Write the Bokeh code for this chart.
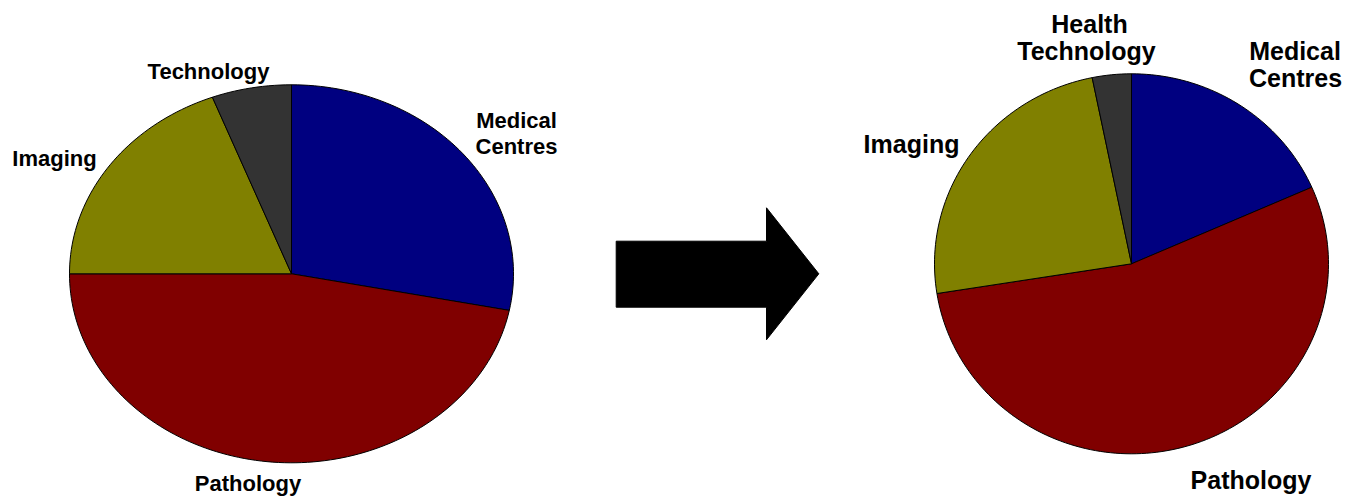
import numpy as np
from bokeh.plotting import figure
from bokeh.models import Range1d, ColumnDataSource
from bokeh.core.properties import value
from bokeh.embed import file_html
from bokeh.resources import INLINE

# ---- data ----
left_categories = ["Medical Centres", "Pathology", "Imaging", "Technology"]
left_values = [28.1, 46.9, 19.2, 5.8]
right_categories = ["Medical Centres", "Pathology", "Imaging", "Health Technology"]
right_values = [18.4, 54.1, 24.3, 3.2]
slice_colors = ["#000080", "#800000", "#808000", "#333333"]

left_label_lines = ["Technology", "Imaging", "Medical", "Centres", "Pathology"]
right_label_lines = ["Health", "Technology", "Medical", "Centres", "Imaging", "Pathology"]

W, H = 1351, 497
p = figure(width=W, height=H, x_range=Range1d(0, W), y_range=Range1d(0, H),
           output_backend="svg", toolbar_location=None, min_border=0,
           x_axis_location=None, y_axis_location=None)
p.grid.visible = False
p.outline_line_color = None
p.background_fill_color = "white"


def pie_patches(values, cx, cy, rx, ry, n=240):
    vals = np.asarray(values, dtype=float)
    fr = vals / vals.sum()
    cum = np.concatenate([[0], np.cumsum(fr)])
    xs, ys = [], []
    for i in range(len(vals)):
        a0 = np.pi / 2 - 2 * np.pi * cum[i]
        a1 = np.pi / 2 - 2 * np.pi * cum[i + 1]
        k = max(3, int(n * fr[i]) + 2)
        t = np.linspace(a0, a1, k)
        xs.append([cx] + list(cx + rx * np.cos(t)) + [cx])
        ys.append([cy] + list(cy + ry * np.sin(t)) + [cy])
    return xs, ys


for vals, cats, (cx, cy, rx, ry) in [
    (left_values, left_categories, (291, 223.7, 222, 189)),
    (right_values, right_categories, (1131, 233.7, 197, 190)),
]:
    xs, ys = pie_patches(vals, cx, cy, rx, ry)
    src = ColumnDataSource(dict(xs=xs, ys=ys, color=slice_colors, cat=cats, val=vals))
    p.patches("xs", "ys", source=src, fill_color="color", line_color="black", line_width=1)

# arrow
p.patch([615.7, 766, 766, 818.3, 766, 766, 615.7],
        [256.3, 256.3, 289.7, 223.7, 157.7, 190.3, 190.3],
        fill_color="black", line_color="black", line_width=1)

font = value("Liberation Sans")

# left labels
lsrc = ColumnDataSource(dict(
    x=[208, 54, 516, 516, 247.5],
    y=[426, 339, 377, 351, 14],
    text=left_label_lines))
p.text("x", "y", "text", source=lsrc, text_font=font, text_font_style="bold",
       text_font_size="22px", text_align="center", text_baseline="alphabetic",
       text_color="black")

# right labels
rsrc = ColumnDataSource(dict(
    x=[1089, 1086, 1294.5, 1295, 911, 1250.5],
    y=[473.7, 447, 447, 419.7, 353.7, 18],
    text=right_label_lines))
p.text("x", "y", "text", source=rsrc, text_font=font, text_font_style="bold",
       text_font_size="25px", text_align="center", text_baseline="alphabetic",
       text_color="black")

open("out.html", "w").write(file_html(p, INLINE))
